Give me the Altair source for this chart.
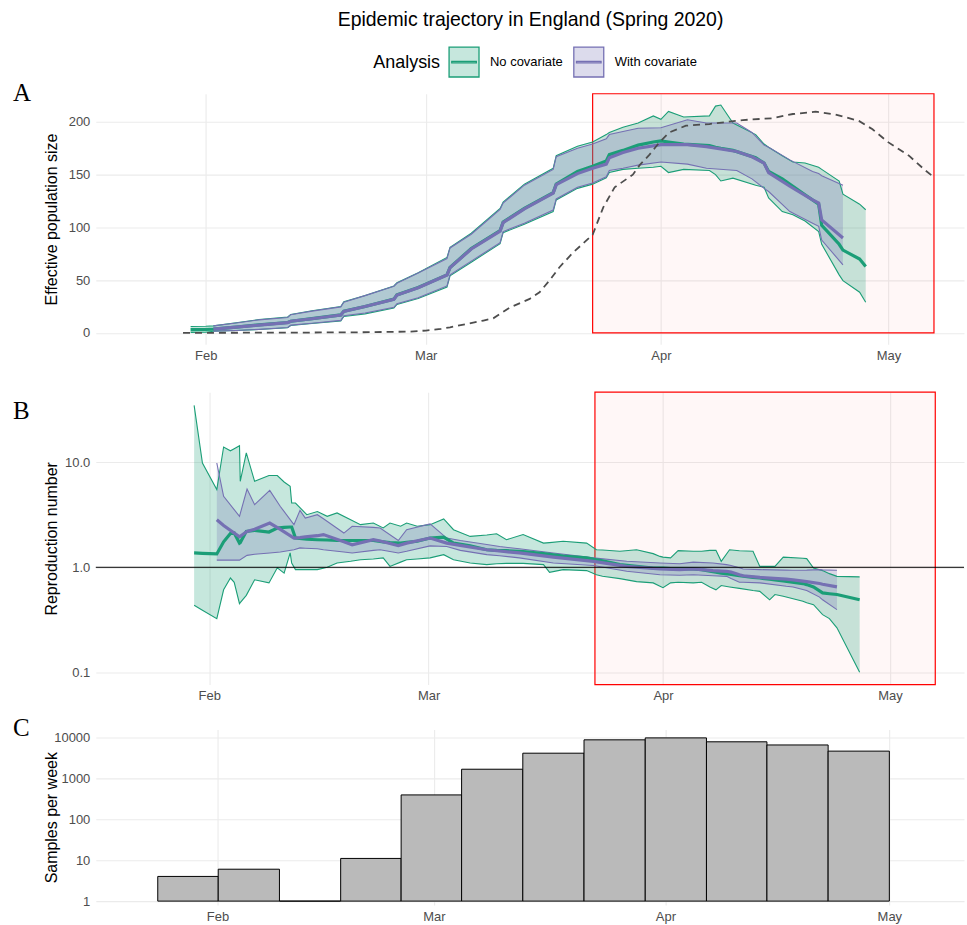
import altair as alt
import pandas as pd
from datetime import datetime, timedelta

# ---------------------------------------------------------------- data
# every "_day" list = days after 1 Feb 2020
BASE = datetime(2020, 2, 1)
NAMES = ["No covariate", "With covariate"]

# Panel A - effective population size
a_nocov_day = [-2, 0, 1, 4, 7, 10.8, 11.2, 14, 17.8, 18.2, 21, 24.8, 25.2, 28, 31.8, 32.2, 35, 38.8, 39.2, 42,
               45.8, 46.2, 49, 51, 52.8, 53.2, 55, 57, 59, 60, 61, 63, 66.4, 67.2, 67.9, 69.5, 72.5, 73.6, 74.2,
               76, 77.4, 79, 80.8, 81.2, 83.5, 84, 86.2, 87]
a_nocov_med = [3, 3.2, 3.5, 5.5, 7.5, 9.8, 11, 13.5, 17, 20.5, 25, 32, 36, 43, 55, 62, 80, 97, 105, 118,
               133, 141, 153, 158, 163, 169, 173, 178, 181, 182, 181, 179, 177.5, 176, 175, 173, 166, 161, 153,
               146, 139, 131, 122, 102, 84, 78.5, 70, 63]
a_nocov_lo = [0.5, 0.6, 1.5, 2.2, 3.2, 4.8, 7, 8.8, 11.2, 15.5, 18, 23.5, 27, 32.5, 43.5, 54, 67, 84.5, 95, 103,
              115, 126, 137, 141, 147, 152, 155, 156, 157, 158, 152, 155, 154, 150, 144, 146.7, 140, 138, 128,
              115, 112, 106, 96, 84, 55, 49.5, 38.5, 29]
a_nocov_hi = [6, 6.2, 6.6, 9.6, 12.6, 15, 17.5, 21, 25, 29.5, 35.5, 44.5, 47.5, 57, 71.5, 81, 94.5, 118, 124, 141,
              156, 168, 177, 181, 188, 190, 195, 199, 205.7, 202.5, 210, 204.7, 205.7, 215, 216, 199, 188, 179, 176,
              168, 162, 161, 157, 155, 144, 131.5, 122, 116.7]

a_cov_day = [1, 4, 7, 10.8, 11.2, 14, 17.8, 18.2, 21, 24.8, 25.2, 28, 31.8, 32.2, 35, 38.8, 39.2, 42, 45.8, 46.2,
             49, 51, 52.8, 53.2, 55, 57, 60, 63.5, 66, 70, 72, 73.6, 74.2, 77, 80, 80.8, 81.2, 84]
a_cov_med = [3.5, 5.4, 7.4, 9.7, 11, 13.4, 16.9, 20.4, 25, 31.8, 35.8, 42.8, 54.8, 61.8, 79.5, 96.5, 104.5, 117.5,
             132.5, 140.5, 151, 156, 160, 166, 171, 175, 178.5, 178.5, 176.5, 172, 167, 161, 152, 139, 126, 123,
             107, 90]
a_cov_lo = [1.6, 2.3, 3.3, 5.1, 7.3, 9.1, 11.8, 16.2, 18.8, 24.2, 27.6, 33.3, 44.5, 55, 68, 85.5, 96, 104, 116.5,
            127, 138, 142, 148, 154, 156, 159, 162, 160, 156, 154, 146, 137, 134, 115, 104, 101, 88, 64.5]
a_cov_hi = [6.6, 9.3, 12.3, 14.6, 17.2, 20.6, 24.6, 29, 35.3, 44.2, 47, 56.8, 70.5, 80.5, 93.5, 117, 123, 140, 155,
            167, 175, 179, 184, 188, 191, 194, 194.5, 202, 199, 199, 190, 178, 176, 164, 153, 151, 149, 140]

# dashed reference trajectory (panel A)
a_other_day = [-3, 10, 20, 27, 29, 31, 32.2, 34.4, 36.6, 37.9, 40.1, 42.7, 44, 45.3, 46.6, 48.4, 51, 52.4, 53.9,
               56.3, 57.2, 58.5, 59.8, 61.1, 63.3, 66.4, 70.8, 74.7, 77.4, 80.4, 83, 86.1, 87.9, 90, 92.7, 94.9, 96]
a_other_val = [0, 0.2, 0.5, 1.2, 2.2, 3.8, 5.3, 8.5, 11.7, 13.8, 24, 32.2, 38.5, 49.5, 62, 76, 93, 119, 138,
               150, 159, 169, 180.6, 190, 196.4, 198, 201.8, 203.5, 207.5, 209.7, 207, 201, 193, 180.6, 168, 153.8,
               147.5]

# Panel B - reproduction number
b_nocov_day = [-2, -0.9, 1, 1.9, 2.8, 3.3, 4, 4.1, 4.9, 6, 7.9, 9, 9.9, 10.7, 10.9, 11.4, 12.9, 14.3, 15.6, 16.9,
               18.7, 20, 21.7, 23, 23.9, 25.3, 26.1, 27.5, 29.2, 31, 32.3, 34.5, 36.7, 38, 39.3, 41.5, 44.2, 45,
               46.8, 49.9, 51.2, 52, 54.3, 56.5, 58.7, 59.6, 60, 61, 62, 64, 65.1, 66.2, 67, 67.7, 68.8, 70.1,
               71.9, 72.8, 74.1, 74.8, 75.9, 78.5, 79, 79.9, 81.1, 82, 83, 86]
b_nocov_med = [1.37, 1.36, 1.34, 1.75, 2.1, 2.12, 1.7, 1.72, 2.2, 2.25, 2.17, 2.37, 2.4, 2.42, 2.42, 1.9, 1.85,
               1.83, 1.82, 1.8, 1.8, 1.8, 1.8, 1.75, 1.72, 1.7, 1.73, 1.77, 1.9, 1.94, 1.7, 1.6, 1.47, 1.45, 1.44,
               1.41, 1.35, 1.33, 1.28, 1.23, 1.18, 1.15, 1.06, 1.02, 0.985, 0.985, 0.98, 0.97, 0.965, 0.964, 0.95,
               0.92, 0.9, 0.88, 0.86, 0.83, 0.8, 0.79, 0.77, 0.76, 0.74, 0.7, 0.684, 0.65, 0.57, 0.56, 0.55, 0.49]
b_nocov_lo = [0.435, 0.39, 0.324, 0.61, 0.79, 0.72, 0.45, 0.46, 0.54, 0.76, 0.71, 0.99, 0.88, 1.37, 1.1, 0.95,
              0.95, 0.95, 1.0, 1.1, 1.14, 1.18, 1.2, 1.23, 1.02, 1.12, 1.18, 1.2, 1.23, 1.32, 1.18, 1.1, 1.06, 1.08,
              1.09, 1.09, 1.06, 0.896, 0.95, 0.93, 0.85, 0.82, 0.78, 0.73, 0.71, 0.66, 0.64, 0.71, 0.72, 0.71, 0.72,
              0.65, 0.61, 0.67, 0.65, 0.63, 0.6, 0.59, 0.49, 0.55, 0.53, 0.475, 0.46, 0.44, 0.354, 0.324, 0.265, 0.1]
b_nocov_hi = [34.9, 9.86, 5.5, 14, 12.9, 13.5, 14.4, 6.6, 12.3, 6.6, 7.5, 7.5, 6.5, 5.9, 4.1, 4.1, 3.17, 3.4, 3.06,
              3.3, 2.84, 2.55, 2.64, 2.37, 2.64, 2.46, 2.64, 2.46, 2.55, 2.89, 2.28, 1.97, 2.03, 2.09, 1.83, 2.05,
              1.7, 1.72, 1.77, 1.7, 1.47, 1.46, 1.42, 1.47, 1.35, 1.27, 1.25, 1.23, 1.44, 1.42, 1.42, 1.45, 1.45,
              1.14, 1.47, 1.44, 1.42, 1.02, 1.02, 1.02, 1.25, 1.22, 1.21, 0.985, 0.93, 0.87, 0.82, 0.81]

b_cov_day = [1, 1.9, 4, 5, 6, 8, 9.4, 11.2, 12, 12.7, 14.3, 15.1, 17.8, 18.9, 21.7, 22.6, 25, 26.1, 29.2, 31.4,
             33.2, 36.7, 38.4, 41, 45.5, 50.8, 55.2, 59.6, 62.2, 64, 66.6, 68.4, 69, 70.1, 70.6, 72.8, 76.3, 77.2,
             79, 80.7, 81.1, 83]
b_cov_med = [2.84, 2.5, 1.95, 2.2, 2.3, 2.64, 2.3, 1.9, 1.92, 1.95, 2.0, 2.05, 1.75, 1.64, 1.83, 1.78, 1.61, 1.7,
             1.9, 1.7, 1.62, 1.47, 1.43, 1.37, 1.25, 1.14, 1.02, 0.964, 0.95, 0.964, 0.93, 0.916, 0.9, 0.85, 0.83,
             0.8, 0.77, 0.76, 0.73, 0.7, 0.69, 0.65]
b_cov_lo = [1.17, 1.17, 1.17, 1.3, 1.33, 1.37, 1.4, 1.47, 1.53, 1.52, 1.5, 1.47, 1.4, 1.37, 1.45, 1.47, 1.37, 1.42,
            1.6, 1.58, 1.45, 1.32, 1.29, 1.23, 1.1, 1.04, 0.916, 0.85, 0.84, 0.85, 0.83, 0.82, 0.78, 0.72, 0.72,
            0.71, 0.66, 0.65, 0.6, 0.52, 0.49, 0.395]
b_cov_hi = [9.86, 4.75, 3.06, 5.57, 3.95, 5.4, 3.8, 2.55, 3.49, 2.95, 3.17, 2.9, 2.12, 2.46, 2.4, 2.37, 1.8, 2.28,
            2.59, 1.9, 1.8, 1.65, 1.58, 1.5, 1.37, 1.23, 1.14, 1.1, 1.08, 1.12, 1.1, 1.06, 1.04, 0.99, 0.964, 0.95,
            0.94, 0.936, 0.94, 0.95, 0.945, 0.936]

# Panel C - samples per week (histogram bins)
c_bin_start = [-8.0, 0.1, 8.3, 16.5, 24.6, 32.7, 40.9, 49.1, 57.3, 65.5, 73.6, 81.8]
c_bin_end = [0.1, 8.3, 16.5, 24.6, 32.7, 40.9, 49.1, 57.3, 65.5, 73.6, 81.8, 90.0]
c_count = [4, 6, 1, 11, 390, 1650, 4060, 8600, 9600, 7700, 6450, 4560]

# highlighted window (lockdown period)
window_start = ["2020-03-23T00:00:00"]
window_end = ["2020-05-07T00:00:00"]

# ---------------------------------------------------------------- helpers
GREEN, PURPLE = "#1b9e77", "#7570b3"


def iso(d):
    return (BASE + timedelta(days=d)).strftime("%Y-%m-%dT%H:%M:%S")


def dtm(d):
    t = BASE + timedelta(days=d)
    return alt.DateTime(year=t.year, month=t.month, date=t.day, hours=t.hour, minutes=t.minute)


def band_df(series):
    rows = []
    for name, days, med, lo, hi in series:
        for d, m, l, h in zip(days, med, lo, hi):
            rows.append({"date": iso(d), "Analysis": name, "med": m, "lo": l, "hi": h})
    return pd.DataFrame(rows)


dfA = band_df([(NAMES[0], a_nocov_day, a_nocov_med, a_nocov_lo, a_nocov_hi),
               (NAMES[1], a_cov_day, a_cov_med, a_cov_lo, a_cov_hi)])
dfB = band_df([(NAMES[0], b_nocov_day, b_nocov_med, b_nocov_lo, b_nocov_hi),
               (NAMES[1], b_cov_day, b_cov_med, b_cov_lo, b_cov_hi)])
dfOther = pd.DataFrame({"date": [iso(d) for d in a_other_day], "val": a_other_val})
dfC = pd.DataFrame({"start": [iso(d) for d in c_bin_start], "end": [iso(d) for d in c_bin_end],
                    "count": c_count})
dfWin = pd.DataFrame({"start": window_start, "end": window_end})

W = 870
HA, HB, HC = 251, 293, 176
XDOM = {"A": (-14.5, 99.96), "B": (-15.0, 99.8), "C": (-16.3, 100.0)}
MONTHS = [alt.DateTime(year=2020, month=m, date=1) for m in (2, 3, 4, 5)]

PATH = "M-1,-1H1V1H-1Z M-0.82,-0.05H0.82V0.05H-0.82Z"
LEG = alt.Legend(title="Analysis", orient="none", legendX=278, legendY=-48, direction="horizontal",
                 titleOrient="left", symbolType=PATH, symbolSize=900, symbolStrokeWidth=1.3,
                 labelFontSize=13, labelColor="black", titleFontSize=18, titleFontWeight="normal",
                 titleColor="black", labelOffset=10, columnPadding=8, titlePadding=7, padding=0)
FILL = alt.Fill("Analysis:N", scale=alt.Scale(domain=NAMES, range=["rgba(27,158,119,0.25)",
                                                                    "rgba(117,112,179,0.25)"]), legend=LEG)
STROKE = alt.Stroke("Analysis:N", scale=alt.Scale(domain=NAMES, range=[GREEN, PURPLE]), legend=LEG)


def xenc(field, p):
    lo, hi = XDOM[p]
    return alt.X(field, type="temporal", scale=alt.Scale(domain=[dtm(lo), dtm(hi)]),
                 axis=alt.Axis(values=MONTHS, format="%b", title=None, labelAngle=0, labelPadding=5))


YAX = {
    "A": (alt.Scale(domain=[-10.8, 226.7], nice=False, zero=False),
          alt.Axis(values=[0, 50, 100, 150, 200], title="Effective population size")),
    "B": (alt.Scale(type="log", domain=[0.0763, 46.7], nice=False),
          alt.Axis(values=[0.1, 1, 10], format=".1f", title="Reproduction number")),
    "C": (alt.Scale(type="log", domain=[0.8, 15420], nice=False),
          alt.Axis(values=[1, 10, 100, 1000, 10000], format="d", title="Samples per week")),
}


def yenc(field, p):
    sc, ax = YAX[p]
    return alt.Y(field, type="quantitative", scale=sc, axis=ax, stack=None)


def letter(txt, y):
    return alt.Chart(pd.DataFrame({"l": [txt]})).mark_text(
        font="Liberation Serif", fontSize=25, align="left", baseline="middle", color="black"
    ).encode(text="l:N", x=alt.value(-83), y=alt.value(y))


def spacer(top):
    return alt.Chart(pd.DataFrame({"l": [0]})).mark_rule(color="white", strokeWidth=0.5).encode(
        x=alt.value(-83), y=alt.value(top), y2=alt.value(0))


def band_layers(df, p):
    area = alt.Chart(df).mark_area().encode(x=xenc("date", p), y=yenc("lo", p), y2="hi:Q", fill=FILL)
    lo = alt.Chart(df).mark_line(strokeWidth=1.1).encode(x=xenc("date", p), y=yenc("lo", p), stroke=STROKE)
    hi = alt.Chart(df).mark_line(strokeWidth=1.1).encode(x=xenc("date", p), y=yenc("hi", p), stroke=STROKE)
    med = alt.Chart(df).mark_line(strokeWidth=3.2).encode(x=xenc("date", p), y=yenc("med", p), stroke=STROKE)
    return area, lo, hi, med


# ---------------------------------------------------------------- panel A
winA = alt.Chart(dfWin).mark_rect(fill="#ff0000", fillOpacity=0.03, stroke="#ff0000", strokeWidth=1.2).encode(
    x=xenc("start", "A"), x2="end:T", y=alt.datum(0), y2=alt.value(0))
areaA, loA, hiA, medA = band_layers(dfA, "A")
otherA = alt.Chart(dfOther).mark_line(color="#4d4d4d", strokeWidth=1.8, strokeDash=[7, 5]).encode(
    x=xenc("date", "A"), y=yenc("val", "A"))
panelA = alt.layer(winA, areaA, loA, hiA, medA, otherA, letter("A", -1), spacer(-16)).properties(
    width=W, height=HA)

# ---------------------------------------------------------------- panel B
winB = alt.Chart(dfWin).mark_rect(fill="#ff0000", fillOpacity=0.03, stroke="#ff0000", strokeWidth=1.2).encode(
    x=xenc("start", "B"), x2="end:T", y=alt.value(0), y2=alt.value(HB))
areaB, loB, hiB, medB = band_layers(dfB, "B")
oneB = alt.Chart(pd.DataFrame({"l": [0]})).mark_rule(color="black", strokeWidth=1).encode(y=alt.datum(1))
panelB = alt.layer(winB, areaB, loB, hiB, medB, oneB, letter("B", 19), spacer(-16)).properties(
    width=W, height=HB)

# ---------------------------------------------------------------- panel C
barsC = alt.Chart(dfC).mark_rect(fill="#bababa", stroke="black", strokeWidth=1).encode(
    x=xenc("start", "C"), x2="end:T", y=yenc("count", "C"), y2=alt.datum(1))
panelC = alt.layer(barsC, letter("C", -1), spacer(-13)).properties(width=W, height=HC)

chart = alt.vconcat(panelA, panelB, panelC, spacing=13).resolve_scale(
    x="independent", y="independent"
).properties(
    title=alt.TitleParams("Epidemic trajectory in England (Spring 2020)", fontSize=19.5, fontWeight="normal",
                          color="black", anchor="middle", dx=42, offset=15, font="Liberation Sans"),
    padding={"left": 12, "top": 9, "right": 2, "bottom": 0},
).configure(font="Liberation Sans").configure_axis(
    grid=True, gridColor="#ebebeb", gridWidth=1.1, domain=False, ticks=False, tickSize=0,
    labelFont="Liberation Sans", labelFontSize=13, labelColor="#4d4d4d", labelPadding=6,
    titleFont="Liberation Sans", titleFontSize=16, titleFontWeight="normal", titleColor="black",
    titleX=-44, titleBaseline="middle"
).configure_view(stroke=None)

chart.save("out.html", embed_options={"renderer": "svg", "actions": False})
